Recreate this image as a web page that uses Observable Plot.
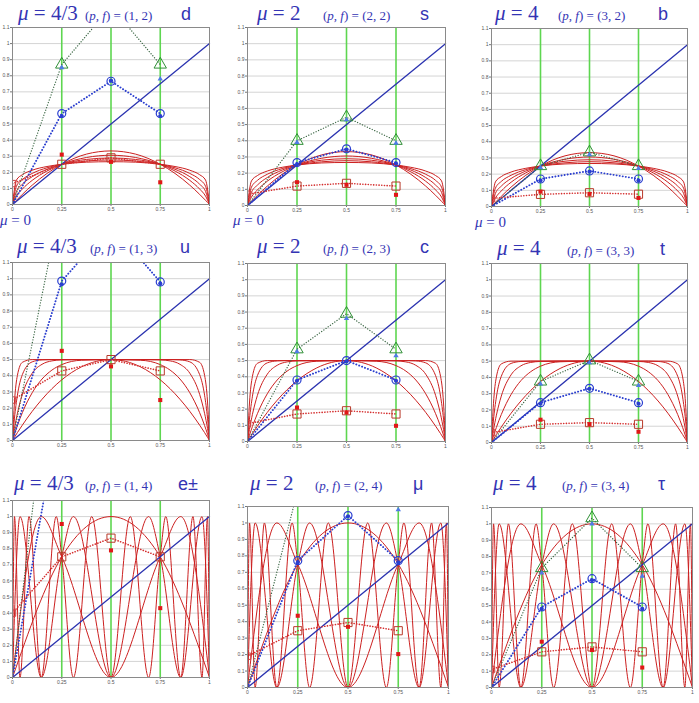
<!DOCTYPE html>
<html><head><meta charset="utf-8">
<script src="https://cdn.jsdelivr.net/npm/d3@7"></script>
<script src="https://cdn.jsdelivr.net/npm/@observablehq/plot@0.6"></script>
<style>
body{margin:0;background:#fff;}
#wrap{position:relative;width:699px;height:703px;overflow:hidden;background:#fff;}
.t{position:absolute;white-space:nowrap;color:#3434b4;line-height:1;}
.mu{font-family:"Liberation Serif",serif;font-size:21px;}
.pf{font-family:"Liberation Serif",serif;font-size:13px;}
.pt{font-family:"Liberation Sans",sans-serif;font-size:18px;}
.z{font-family:"Liberation Serif",serif;font-size:15px;}
.pane{position:absolute;}
</style></head>
<body><div id="wrap"></div>
<script>
// ---- labels ----
const muLabels = ["4/3","2","4","4/3","2","4","4/3","2","4"];
const pfLabels = ["(1, 2)","(2, 2)","(3, 2)","(1, 3)","(2, 3)","(3, 3)","(1, 4)","(2, 4)","(3, 4)"];
const particles = ["d","s","b","u","c","t","e±","μ","τ"];
const xTicks = [0,0.25,0.5,0.75,1];
const xTickLabels = ["0","0.25","0.5","0.75","1"];
const yTicks = [0,0.1,0.2,0.3,0.4,0.5,0.6,0.7,0.8,0.9,1,1.1];
const yTickLabels = ["0","0.1","0.2","0.3","0.4","0.5","0.6","0.7","0.8","0.9","1","1.1"];
const vLines = [0.25,0.5,0.75];
const diagonal = [[0,0],[1,1]];

// ---- row 1 red curves (humps through (0.25,0.25)) ----
const humpX = [0,0.02,0.05,0.1,0.175,0.25,0.375,0.5,0.625,0.75,0.825,0.9,0.95,0.98,1];
const humpY1 = [0,0.026,0.063,0.120,0.193,0.25,0.313,0.333,0.313,0.25,0.193,0.120,0.063,0.026,0];
const humpY2 = [0,0.052,0.096,0.150,0.208,0.25,0.292,0.306,0.292,0.25,0.208,0.150,0.096,0.052,0];
const humpY3 = [0,0.081,0.126,0.173,0.219,0.25,0.280,0.289,0.280,0.25,0.219,0.173,0.126,0.081,0];
const humpY4 = [0,0.113,0.155,0.193,0.228,0.25,0.270,0.277,0.270,0.25,0.228,0.193,0.155,0.113,0];
const humpY5 = [0,0.152,0.185,0.213,0.236,0.25,0.263,0.266,0.263,0.25,0.236,0.213,0.185,0.152,0];

// ---- row 2 red curves (plateau at 0.5) ----
const platX = [0,0.01,0.025,0.05,0.1,0.15,0.2,0.25,0.35,0.5,0.65,0.75,0.8,0.85,0.9,0.95,0.975,0.99,1];
const platY1 = [0,0.020,0.049,0.095,0.180,0.255,0.320,0.375,0.455,0.5,0.455,0.375,0.320,0.255,0.180,0.095,0.049,0.020,0];
const platY2 = [0,0.039,0.093,0.172,0.295,0.380,0.435,0.469,0.496,0.5,0.496,0.469,0.435,0.380,0.295,0.172,0.093,0.039,0];
const platY3 = [0,0.075,0.168,0.285,0.416,0.471,0.492,0.498,0.5,0.5,0.5,0.498,0.492,0.471,0.416,0.285,0.168,0.075,0];
const platY4 = [0,0.138,0.280,0.407,0.486,0.498,0.5,0.5,0.5,0.5,0.5,0.5,0.5,0.498,0.486,0.407,0.280,0.138,0];
const platY5 = [0,0.238,0.403,0.483,0.5,0.5,0.5,0.5,0.5,0.5,0.5,0.5,0.5,0.5,0.5,0.483,0.403,0.238,0];

const oscX1 = [0,0.25,0.5,0.75,1];
const oscY1 = [0,0.75,1,0.75,0];
const oscX2 = [0,0.146,0.25,0.5,0.75,0.854,1];
const oscY2 = [0,1,0.75,0,0.75,1,0];
const oscX3 = [0,0.038,0.146,0.25,0.309,0.5,0.691,0.75,0.854,0.962,1];
const oscY3 = [0,1,0,0.75,1,0,1,0.75,0,1,0];
const oscX4 = [0,0.010,0.038,0.084,0.146,0.222,0.25,0.309,0.402,0.5,0.598,0.691,0.75,0.778,0.854,0.916,0.962,0.990,1];
const oscY4 = [0,1,0,1,0,1,0.75,0,1,0,1,0,0.75,1,0,1,0,1,0];

// ---- markers (x = 0.25, 0.5, 0.75), one row per panel ----
const markX = [0.25,0.5,0.75];
const triY   = [[0.87,1.23,0.87],[0.40,0.545,0.40],[0.25,0.335,0.25],[1.5,2.0,1.5],[0.57,0.79,0.57],[0.375,0.505,0.375],[2.57,3.2,2.57],[1.2,1.5,1.2],[0.73,1.035,0.73]];
const smTriY = [[0.85,null,0.78],[0.39,0.53,0.385],[0.24,0.32,0.235],[null,null,null],[0.555,0.76,0.53],[0.36,0.49,0.35],[null,null,null],[null,null,1.08],[0.70,1.0,0.68]];
const circY  = [[0.565,0.766,0.565],[0.265,0.35,0.265],[0.17,0.22,0.17],[0.985,1.33,0.98],[0.38,0.50,0.38],[0.245,0.333,0.245],[1.74,2.2,1.74],[0.771,1.045,0.771],[0.492,0.665,0.492]];
const bDotY  = [[0.55,0.77,0.55],[0.255,0.345,0.26],[0.16,0.215,0.16],[0.965,null,0.97],[0.375,0.495,0.375],[0.238,0.33,0.238],[null,null,null],[0.76,1.04,0.76],[0.48,0.655,0.48]];
const sqY    = [[0.25,0.29,0.25],[0.12,0.137,0.12],[0.075,0.085,0.076],[0.43,0.50,0.43],[0.17,0.19,0.17],[0.112,0.122,0.112],[0.75,0.866,0.75],[0.345,0.395,0.345],[0.218,0.248,0.218]];
const sqLeftY = [0.13,0.07,0.05,0.25,0.11,0.06,0.40,0.19,0.11];
const fillSqY = [[0.31,0.265,0.138],[0.144,0.128,0.066],[0.092,0.078,0.053],[0.554,0.458,0.25],[0.21,0.18,0.097],[0.14,0.113,0.066],[0.954,0.79,0.431],[0.436,0.369,0.203],[0.28,0.229,0.122]];

// ---- layout ----
const frames = [[12,27,209,204],[247,27,445,205],[491,28,687,206],[12,262,209,440],[247,263,445,441],[491,263,687,442],[12,500,209,677],[247,506,448,687],[491,507,692,687]];
const titlePos = [[18,85,181,15],[257,323,420,15],[495,558,658,15],[17,90,180,248],[257,323,420,248],[497,567,660,250],[14,85,178,485],[250,315,413,485],[493,562,658,485]];
const zeroPos = [[0,221],[233,221],[475,223]];

const wrap = document.getElementById("wrap");
function addText(cls, html, x, yc, fs){
  const s = document.createElement("div");
  s.className = "t " + cls; s.innerHTML = html;
  s.style.left = x + "px"; s.style.top = (yc - fs*0.55) + "px";
  wrap.appendChild(s);
}

function toRows(xs, ysList){
  const out = [];
  ysList.forEach((ys, k) => xs.forEach((x, j) => out.push({x, y: ys[j], k})));
  return out;
}
const rowCurves = [
  {data: toRows(humpX,[humpY1,humpY2,humpY3,humpY4,humpY5]), curve:"monotone-x"},
  {data: toRows(platX,[platY1,platY2,platY3,platY4,platY5]), curve:"monotone-x"},
  {data: [].concat(
      oscX1.map((x,j)=>({x,y:oscY1[j],k:1})),
      oscX2.map((x,j)=>({x,y:oscY2[j],k:2})),
      oscX3.map((x,j)=>({x,y:oscY3[j],k:3})),
      oscX4.map((x,j)=>({x,y:oscY4[j],k:4}))), curve:"monotone-x"}
];

const mL=13, mR=4, mT=4, mB=11;
for (let i=0;i<9;i++){
  const [L,T,R,B] = frames[i];
  const row = Math.floor(i/3);
  const pts = (ys) => markX.map((x,j)=>({x,y:ys[j]})).filter(d=>d.y!=null);
  const path = (ys, y0) => [{x:0,y:y0}].concat(markX.map((x,j)=>({x,y:ys[j]})));
  const rc = rowCurves[row];
  const svg = Plot.plot({
    width: (R-L)+mL+mR, height: (B-T)+mT+mB,
    marginLeft:mL, marginRight:mR, marginTop:mT, marginBottom:mB,
    x:{domain:[0,1]}, y:{domain:[0,1.1]},
    style:{background:"white", fontFamily:"Liberation Sans", fontSize:"5px", color:"#555"},
    marks:[
      Plot.gridY(yTicks, {stroke:"#d4d4d4", strokeOpacity:1}),
      Plot.ruleX(vLines, {stroke:"#5ed650", strokeWidth:1.6}),
      Plot.line(rc.data, {x:"x", y:"y", z:"k", stroke:"#cc2020", strokeWidth:1, curve:rc.curve, clip:true}),
      Plot.line(diagonal, {x:d=>d[0], y:d=>d[1], stroke:"#2b33b0", strokeWidth:1.3}),
      Plot.line(path(triY[i],0), {x:"x", y:"y", stroke:"#3f6a48", strokeWidth:1.3, strokeDasharray:"0.1,2.6", strokeLinecap:"round", clip:true}),
      Plot.line(path(circY[i],0), {x:"x", y:"y", stroke:"#2b3fcf", strokeWidth:1.9, strokeDasharray:"0.1,3", strokeLinecap:"round", clip:true}),
      Plot.line(path(sqY[i],sqLeftY[i]), {x:"x", y:"y", stroke:"#d43030", strokeWidth:1.6, strokeDasharray:"0.1,2.6", strokeLinecap:"round", clip:true}),
      Plot.dot(pts(triY[i]), {x:"x", y:"y", symbol:"triangle", r:4.6, stroke:"#2f8f36", fill:"none", strokeWidth:1, clip:true}),
      Plot.dot(pts(smTriY[i]), {x:"x", y:"y", symbol:"triangle", r:2, fill:"#4f7be6", stroke:"none", clip:true}),
      Plot.dot(pts(circY[i]), {x:"x", y:"y", r:4, stroke:"#2a3fd0", fill:"none", strokeWidth:1.2, clip:true}),
      Plot.dot(pts(bDotY[i]), {x:"x", y:"y", r:2.1, fill:"#2a3fd0", stroke:"none", clip:true}),
      Plot.dot(pts(sqY[i]), {x:"x", y:"y", symbol:"square", r:4.6, stroke:"#b83a2a", fill:"none", strokeWidth:1, clip:true}),
      Plot.dot([{x:0,y:sqLeftY[i]}], {x:"x", y:"y", symbol:"square", r:3.6, stroke:"#d04040", fill:"none", strokeWidth:1, clip:true}),
      Plot.dot(pts(fillSqY[i]), {x:"x", y:"y", symbol:"square", r:2.3, fill:"#e01818", stroke:"none", clip:true}),
      Plot.axisX(xTicks, {tickSize:2, tickPadding:1, fontSize:5, label:null, tickFormat:d=>xTickLabels[xTicks.indexOf(d)], stroke:"#777"}),
      Plot.axisY(yTicks, {tickSize:2, tickPadding:1, fontSize:5, label:null, tickFormat:d=>yTickLabels[yTicks.indexOf(d)], stroke:"#777"}),
      Plot.frame({stroke:"#8a8a8a", strokeWidth:1})
    ]
  });
  const holder = document.createElement("div");
  holder.className = "pane";
  holder.style.left = (L-mL)+"px"; holder.style.top = (T-mT)+"px";
  holder.appendChild(svg);
  wrap.appendChild(holder);

  const [mx, px, ptx, yc] = titlePos[i];
  addText("mu", "<i>μ</i> = " + muLabels[i], mx, yc, 21);
  addText("pf", "(<i>p</i>, <i>f</i>) = " + pfLabels[i], px, yc+1, 13);
  addText("pt", particles[i], ptx, yc, 18);
}
zeroPos.forEach(([x,y]) => addText("z", "<i>μ</i> = 0", x, y, 15));
</script>
</body></html>
